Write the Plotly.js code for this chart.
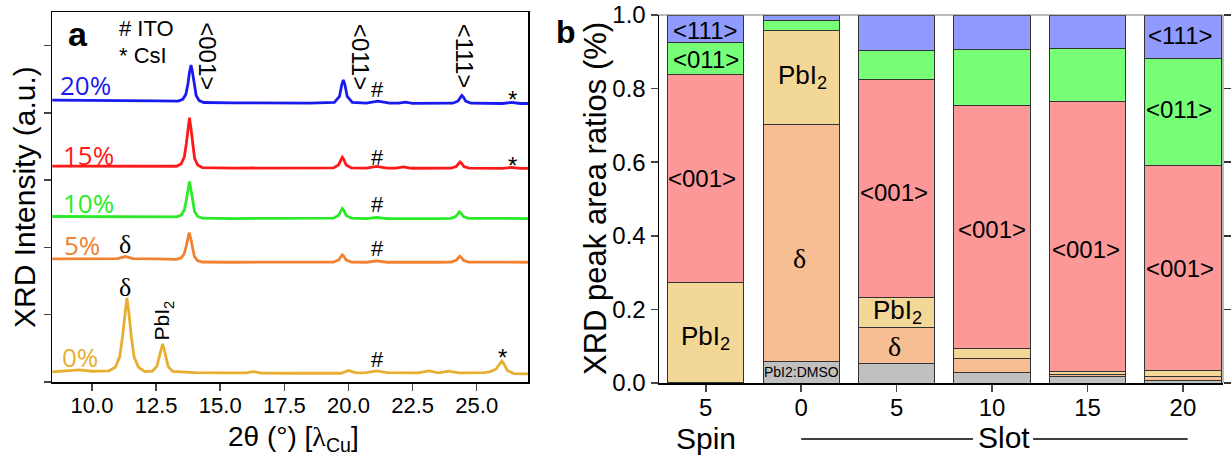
<!DOCTYPE html>
<html><head><meta charset="utf-8">
<script src="https://cdn.plot.ly/plotly-3.0.1.min.js"></script>
<style>html,body{margin:0;padding:0;background:#fff}#chart{width:1231px;height:458px}</style>
</head><body><div id="chart"></div>
<script>
// ---------- Panel a: XRD patterns (offset stacked) ----------
const x20 = [8.45,9.5,11.0,12.5,13.36,13.54,13.66,13.74,13.80,13.86,13.92,13.98,14.06,14.18,14.36,15.5,17.0,18.5,19.45,19.65,19.74,19.80,19.86,19.95,20.15,20.7,21.15,21.6,21.95,22.23,22.5,23.5,24.07,24.27,24.36,24.42,24.48,24.57,24.77,25.5,26.0,26.35,26.7,27.0];
const y20 = [4.19,4.19,4.18,4.18,4.175,4.202,4.278,4.429,4.602,4.71,4.60,4.43,4.258,4.182,4.155,4.15,4.145,4.145,4.155,4.245,4.421,4.49,4.421,4.245,4.155,4.145,4.175,4.145,4.145,4.16,4.143,4.14,4.144,4.176,4.236,4.26,4.236,4.176,4.144,4.14,4.14,4.155,4.14,4.14];

const x15 = [8.45,10.0,12.0,13.30,13.48,13.60,13.68,13.74,13.80,13.86,13.92,14.00,14.12,14.30,15.5,17.0,18.8,19.41,19.61,19.70,19.76,19.82,19.91,20.11,20.7,21.1,21.5,21.85,22.15,22.45,23.5,24.00,24.20,24.29,24.35,24.41,24.50,24.70,25.5,26.0,26.35,26.7,27.0];
const y15 = [3.21,3.21,3.20,3.207,3.244,3.346,3.55,3.784,3.93,3.764,3.53,3.326,3.224,3.187,3.18,3.18,3.178,3.183,3.226,3.306,3.34,3.306,3.226,3.183,3.178,3.205,3.178,3.178,3.198,3.177,3.176,3.179,3.204,3.251,3.27,3.251,3.204,3.179,3.176,3.176,3.19,3.176,3.176];

const x10 = [8.45,10.0,12.0,13.30,13.48,13.60,13.68,13.74,13.80,13.86,13.92,14.00,14.12,14.30,15.5,17.0,18.8,19.41,19.61,19.70,19.76,19.82,19.91,20.11,20.7,21.1,21.5,23.5,23.98,24.18,24.27,24.33,24.39,24.48,24.68,25.5,27.0];
const y10 = [2.46,2.46,2.455,2.455,2.482,2.556,2.704,2.874,2.98,2.854,2.684,2.536,2.462,2.435,2.43,2.43,2.43,2.435,2.475,2.55,2.58,2.55,2.475,2.435,2.43,2.445,2.43,2.43,2.433,2.46,2.51,2.53,2.51,2.46,2.433,2.43,2.43];

const x05 = [8.45,10.0,11.0,11.3,11.6,12.5,13.29,13.47,13.59,13.67,13.73,13.79,13.85,13.91,13.99,14.11,14.29,15.5,17.0,18.8,19.41,19.61,19.70,19.76,19.82,19.91,20.11,20.7,21.1,21.5,23.5,23.99,24.19,24.28,24.34,24.40,24.49,24.69,25.5,27.0];
const y05 = [1.83,1.83,1.835,1.865,1.835,1.83,1.824,1.844,1.90,2.012,2.14,2.22,2.132,1.991,1.868,1.806,1.784,1.78,1.78,1.78,1.783,1.813,1.868,1.89,1.868,1.813,1.783,1.78,1.80,1.78,1.78,1.783,1.807,1.852,1.87,1.852,1.807,1.783,1.78,1.78];

const x00 = [8.45,9.0,9.5,10.0,10.66,10.91,11.08,11.19,11.28,11.36,11.44,11.53,11.64,11.81,12.06,12.35,12.53,12.62,12.69,12.75,12.81,12.88,12.97,13.15,14.0,15.5,16.0,16.3,16.6,18.0,19.7,20.0,20.3,20.7,21.1,21.5,22.7,23.15,23.5,23.9,24.3,25.3,25.5,25.75,25.90,25.98,26.06,26.2,26.45,27.0];
const y00 = [0.15,0.16,0.18,0.16,0.166,0.22,0.373,0.678,1.027,1.25,1.027,0.678,0.373,0.22,0.155,0.162,0.233,0.358,0.49,0.565,0.49,0.353,0.228,0.158,0.14,0.135,0.135,0.155,0.133,0.13,0.13,0.17,0.135,0.14,0.165,0.14,0.135,0.165,0.135,0.16,0.135,0.14,0.15,0.19,0.28,0.31,0.27,0.17,0.125,0.12];

const curveNames  = ['20%','15%','10%','5%','0%'];
const curveColors = ['#1a1aee','#ff1a1a','#2aea2a','#f08232','#e8ae30'];
const xTickVals = [10,12.5,15,17.5,20,22.5,25];
const xTickText = ['10.0','12.5','15.0','17.5','20.0','22.5','25.0'];

// ---------- Panel b: peak area ratios ----------
const categories = ['5','0','5','10','15','20'];
const groupLabels = ['Spin','Slot'];
const phaseNames  = ['PbI₂:DMSO','δ','PbI₂','<001>','<011>','<111>'];
const phaseColors = ['#c0c0c0','#f7be93','#f2d797','#fc9898','#78ff78','#8f9bff'];
const vDMSO = [0.000,0.058,0.053,0.029,0.019,0.006];
const vDelta= [0.002,0.645,0.099,0.038,0.005,0.011];
const vPbI2 = [0.272,0.255,0.080,0.027,0.008,0.018];
const v001  = [0.564,0.000,0.593,0.661,0.733,0.555];
const v011  = [0.087,0.028,0.078,0.150,0.145,0.292];
const v111  = [0.075,0.014,0.097,0.095,0.090,0.118];
const yTickVals = [0,0.2,0.4,0.6,0.8,1.0];

const W = 1231, H = 458;
const px = v => v / W, py = v => 1 - v / H;
const SANS = 'Liberation Sans, Arial, sans-serif';
const SERIF = 'Liberation Serif, Times New Roman, serif';

const traces = [];
const xs = [x20,x15,x10,x05,x00], ys = [y20,y15,y10,y05,y00];
for (let i = 0; i < 5; i++) {
  traces.push({type:'scatter', mode:'lines', x:xs[i], y:ys[i], name:curveNames[i],
    line:{color:curveColors[i], width:2.8}, xaxis:'x', yaxis:'y', hoverinfo:'skip'});
}
const barIdx = categories.map((c,i)=>i);
const stacks = [vDMSO,vDelta,vPbI2,v001,v011,v111];
for (let k = 0; k < stacks.length; k++) {
  traces.push({type:'bar', x:barIdx, y:stacks[k], name:phaseNames[k], width:0.8,
    marker:{color:phaseColors[k], line:{color:'#333', width:1}}, xaxis:'x2', yaxis:'y2', hoverinfo:'skip'});
}
// invisible trace to create right-side mirrored ticks
traces.push({type:'scatter', mode:'markers', x:[0], y:[0], xaxis:'x2', yaxis:'y3', marker:{opacity:0}, hoverinfo:'skip'});

const ann = [];
function A(o){ ann.push(Object.assign({showarrow:false, xanchor:'center', yanchor:'middle', font:{family:SANS, size:22, color:'#000'}}, o)); }

// panel a labels (data coordinates of panel a)
const pctPos = [[9.73,4.41],[9.85,3.37],[9.85,2.66],[9.61,2.04],[9.53,0.37]];
for (let i=0;i<5;i++) A({xref:'x',yref:'y',x:pctPos[i][0],y:pctPos[i][1],text:curveNames[i],font:{family:'Open Sans, sans-serif',size:26,color:curveColors[i]}});
A({xref:'x',yref:'y',x:14.49,y:4.84,text:'<001>',textangle:90,font:{family:SANS,size:24}});
A({xref:'x',yref:'y',x:20.47,y:4.84,text:'<011>',textangle:90,font:{family:SANS,size:24}});
A({xref:'x',yref:'y',x:24.53,y:4.84,text:'<111>',textangle:90,font:{family:SANS,size:24}});
[4.35,3.34,2.64,1.98,0.34].forEach(v=>A({xref:'x',yref:'y',x:21.15,y:v,text:'#',font:{family:SANS,size:22}}));
A({xref:'x',yref:'y',x:26.41,y:4.2,text:'*',font:{family:SANS,size:24}});
A({xref:'x',yref:'y',x:26.41,y:3.22,text:'*',font:{family:SANS,size:24}});
A({xref:'x',yref:'y',x:26.02,y:0.36,text:'*',font:{family:SANS,size:24}});
A({xref:'x',yref:'y',x:11.29,y:2.04,text:'δ',font:{family:SERIF,size:26}});
A({xref:'x',yref:'y',x:11.29,y:1.41,text:'δ',font:{family:SERIF,size:26}});
A({xref:'x',yref:'y',x:12.78,y:0.92,text:'PbI<sub>2</sub>',textangle:-90,font:{family:SANS,size:21}});
A({xref:'paper',yref:'paper',x:px(117),y:py(28),xanchor:'left',text:'# ITO',font:{family:SANS,size:22}});
A({xref:'paper',yref:'paper',x:px(117),y:py(56),xanchor:'left',text:'* CsI',font:{family:SANS,size:22}});
A({xref:'paper',yref:'paper',x:px(78),y:py(34),text:'<b>a</b>',font:{family:SANS,size:34}});
A({xref:'paper',yref:'paper',x:px(24),y:py(197),text:'XRD Intensity (a.u.)',textangle:-90,font:{family:SANS,size:30}});
A({xref:'paper',yref:'paper',x:px(293),y:py(438),text:'2θ (°) [<span style="font-family:Liberation Serif">λ</span><sub>Cu</sub>]',font:{family:SANS,size:28}});

// panel b labels (data coordinates of panel b)
A({xref:'paper',yref:'paper',x:px(566),y:py(32),text:'<b>b</b>',font:{family:SANS,size:32}});
A({xref:'paper',yref:'paper',x:px(596),y:py(199),text:'XRD peak area ratios (%)',textangle:-90,font:{family:SANS,size:31}});
const B = (x,y,t,sz,fam)=>A({xref:'x2',yref:'y2',x:x,y:y,text:t,font:{family:fam||SANS,size:sz||24}});
B(0,0.959,'<111>'); B(0,0.878,'<011>'); B(-0.04,0.557,'<001>'); B(0,0.125,'PbI<sub>2</sub>',26);
B(1.01,0.832,'PbI<sub>2</sub>',26); B(0.98,0.337,'δ',28,SERIF); B(1,0.030,'PbI2:DMSO',14);
B(1.97,0.519,'<001>'); B(2.01,0.193,'PbI<sub>2</sub>',26); B(1.98,0.098,'δ',28,SERIF);
B(3.0,0.418,'<001>'); B(3.98,0.364,'<001>');
B(4.97,0.3125,'<001>'); B(4.96,0.742,'<011>'); B(4.97,0.943,'<111>');
A({xref:'x2',yref:'paper',x:0,y:py(438),text:groupLabels[0],font:{family:SANS,size:30}});
A({xref:'x2',yref:'paper',x:3.12,y:py(437),text:groupLabels[1],font:{family:SANS,size:30}});

const shapes = [
  {type:'line',xref:'x2',yref:'paper',x0:1.0,x1:2.80,y0:py(439),y1:py(439),line:{color:'#000',width:1.5}},
  {type:'line',xref:'x2',yref:'paper',x0:3.43,x1:5.05,y0:py(439),y1:py(439),line:{color:'#000',width:1.5}},
  {type:'line',xref:'x2 domain',yref:'y2 domain',x0:0,x1:1,y0:1,y1:1,line:{color:'#777',width:1}},
  {type:'line',xref:'x2 domain',yref:'y2 domain',x0:1,x1:1,y0:0,y1:1,line:{color:'#777',width:1}}
];

const layout = {
  width:W, height:H, margin:{l:0,r:0,t:0,b:0}, showlegend:false, paper_bgcolor:'#fff', plot_bgcolor:'#fff',
  font:{family:SANS, size:22, color:'#000'}, barmode:'stack', hovermode:false,
  xaxis:{domain:[px(52),px(528)], range:[8.44,27], tickvals:xTickVals, ticktext:xTickText, ticks:'outside', ticklen:7, tickwidth:1.5,
    ticklabelstandoff:-4,
    showline:true, linewidth:1.5, linecolor:'#000', mirror:true, showgrid:false, zeroline:false, tickfont:{size:22}, fixedrange:true},
  yaxis:{domain:[py(382),py(12)], range:[0,5.5], tickvals:[0,1,2,3,4,5], showticklabels:false, ticks:'outside', ticklen:7, tickwidth:1.5,
    showline:true, linewidth:1.5, linecolor:'#000', mirror:true, showgrid:false, zeroline:false, fixedrange:true},
  xaxis2:{domain:[px(659),px(1223)], range:[-0.49,5.42], tickvals:barIdx, ticktext:categories, ticks:'outside', ticklen:7, tickwidth:1.5,
    ticklabelstandoff:-4,
    showline:true, linewidth:1.5, linecolor:'#000', showgrid:false, zeroline:false, tickfont:{size:24}, anchor:'y2', fixedrange:true},
  yaxis2:{domain:[py(383),py(15)], range:[0,1], tickvals:yTickVals, tickformat:'.1f', ticks:'outside', ticklen:7, tickwidth:1.5,
    showline:true, linewidth:1.5, linecolor:'#000', showgrid:false, zeroline:false, tickfont:{size:24}, anchor:'x2', fixedrange:true},
  yaxis3:{domain:[py(383),py(15)], range:[0,1], overlaying:'y2', side:'right', anchor:'x2', tickvals:yTickVals, showticklabels:false,
    ticks:'outside', ticklen:7, tickwidth:1.5, tickcolor:'#333', showline:false, showgrid:false, zeroline:false, fixedrange:true},
  annotations:ann, shapes:shapes
};
Plotly.newPlot('chart', traces, layout, {staticPlot:true, displayModeBar:false});
</script></body></html>
